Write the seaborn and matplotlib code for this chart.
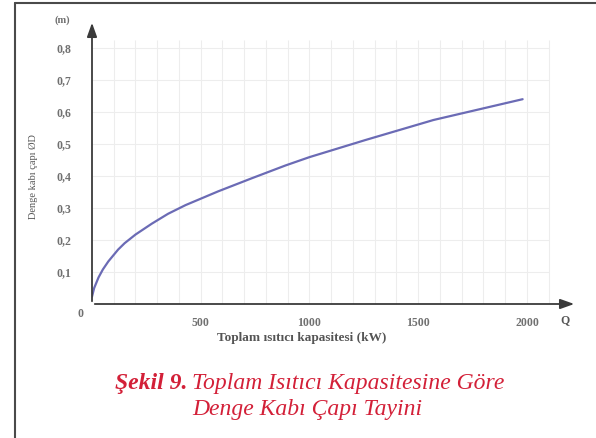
"""Denge kabı çapı vs toplam ısıtıcı kapasitesi (Şekil 9)."""

import matplotlib

matplotlib.use("Agg")

import matplotlib.pyplot as plt
import pandas as pd
import seaborn as sns
from matplotlib.lines import Line2D

# values
capacity_kw = [0, 10, 30, 50, 75, 120, 150, 200, 275, 350, 430, 580, 735, 890, 1000,
               1260, 1570, 1980]
diameter_m = [0.023, 0.05, 0.083, 0.108, 0.133, 0.170, 0.19, 0.217, 0.251, 0.282, 0.309,
              0.352, 0.393, 0.433, 0.459, 0.513, 0.575, 0.64]

x_ticks = [500, 1000, 1500, 2000]
x_tick_labels = ["500", "1000", "1500", "2000"]
y_ticks = [0.1, 0.2, 0.3, 0.4, 0.5, 0.6, 0.7, 0.8]
y_tick_labels = ["0,1", "0,2", "0,3", "0,4", "0,5", "0,6", "0,7", "0,8"]
grid_x = list(range(100, 2200, 100))
grid_y = [0.1, 0.2, 0.3, 0.4, 0.5, 0.6, 0.7, 0.8]

x_label = "Toplam ısıtıcı kapasitesi (kW)"
y_label = "Denge kabı çapı ØD"
caption_bold = "Şekil 9."
caption_line1 = "Toplam Isıtıcı Kapasitesine Göre"
caption_line2 = "Denge Kabı Çapı Tayini"

sns.set_theme(style="white")
plt.rcParams["font.family"] = ["Liberation Serif", "DejaVu Serif"]

W, H = 596, 438
ax_left, ax_right, ax_top, ax_bottom = 92, 577, 20, 304
fig = plt.figure(figsize=(W / 100, H / 100), dpi=100)
ax = fig.add_axes([ax_left / W, 1 - ax_bottom / H, (ax_right - ax_left) / W,
                   (ax_bottom - ax_top) / H])
ax.set_xlim(0, 2230)
ax.set_ylim(0, 0.8875)

# faint grid
ax.vlines(grid_x, 0, 0.825, color="#ededed", linewidth=0.8, zorder=0)
ax.hlines(grid_y, 0, 2100, color="#ededed", linewidth=0.8, zorder=0)

df = pd.DataFrame({"Q": capacity_kw, "D": diameter_m})
sns.lineplot(data=df, x="Q", y="D", ax=ax, color="#6b6bb5", linewidth=1.6)

for side in ax.spines.values():
    side.set_visible(False)

# axis arrows
arrow = dict(arrowstyle="-|>,head_length=0.7,head_width=0.25", color="#3a3a3a", lw=1.3)
ax.annotate("", xy=(1.0, 0), xytext=(0, 0), xycoords="axes fraction", arrowprops=arrow)
ax.annotate("", xy=(0, 1.0), xytext=(0, 0), xycoords="axes fraction", arrowprops=arrow)

tick_color = "#707070"
ax.set_xticks(x_ticks, x_tick_labels)
ax.set_yticks(y_ticks, y_tick_labels)
ax.tick_params(axis="both", length=0, labelsize=8.5, labelcolor=tick_color)
ax.tick_params(axis="x", pad=9)
ax.tick_params(axis="y", pad=15)
for lab in ax.get_xticklabels() + ax.get_yticklabels():
    lab.set_fontweight("bold")

ax.set_xlabel(x_label, fontsize=9.5, fontweight="bold", color="#555555")
ax.xaxis.set_label_coords((302 - ax_left) / (ax_right - ax_left), -0.097)
ax.set_ylabel(y_label, fontsize=7.5, color="#555555")
ax.yaxis.set_label_coords(-(ax_left - 38) / (ax_right - ax_left), 0.45)

fig.text(62 / W, 1 - 20 / H, "(m)", ha="center", va="center", fontsize=7.5,
         fontweight="bold", color=tick_color)
fig.text(80 / W, 1 - 314 / H, "0", ha="center", va="center", fontsize=8.5,
         fontweight="bold", color=tick_color)
fig.text(565 / W, 1 - 320 / H, "Q", ha="center", va="center", fontsize=8.5,
         fontweight="bold", color="#555555")

# caption
red = "#d32038"
fig.text(187 / W, 1 - 383 / H, caption_bold, ha="right", va="center", fontsize=17,
         fontstyle="italic", fontweight="bold", color=red)
fig.text(192 / W, 1 - 383 / H, caption_line1, ha="left", va="center", fontsize=17,
         fontstyle="italic", color=red)
fig.text(192 / W, 1 - 409 / H, caption_line2, ha="left", va="center", fontsize=17,
         fontstyle="italic", color=red)

# outer frame (left and top edges)
fig.add_artist(Line2D([15 / W, 15 / W], [0, 1 - 3 / H], transform=fig.transFigure,
                      color="#4a4a4a", linewidth=1.5))
fig.add_artist(Line2D([15 / W, 1], [1 - 3 / H, 1 - 3 / H], transform=fig.transFigure,
                      color="#4a4a4a", linewidth=1.5))

fig.savefig("out.png", dpi=100)
